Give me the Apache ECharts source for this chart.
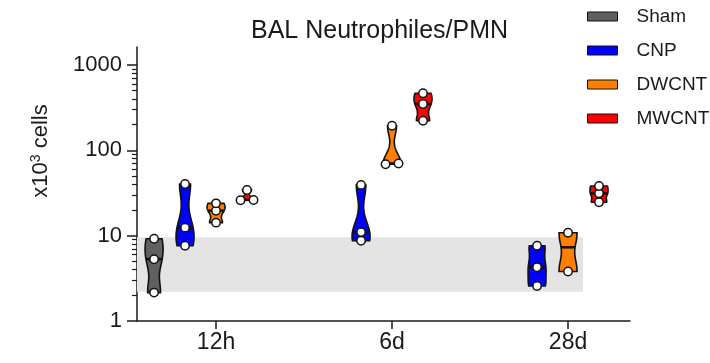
<!DOCTYPE html>
<html><head><meta charset="utf-8">
<script src="https://cdn.jsdelivr.net/npm/echarts@6/dist/echarts.min.js"></script>
<style>html,body{margin:0;padding:0;background:#fff}#c{width:710px;height:363px}</style>
</head><body><div id="c"></div>
<script>
// ---- data (x10^3 cells) ----
const timeLabels = ['12h', '6d', '28d'];
const groupNames = ['Sham', 'CNP', 'DWCNT', 'MWCNT'];
const shamVals  = [[2.15, 5.3, 9.2], null, null];
const cnpVals   = [[7.6, 12.4, 40.3], [8.7, 11.0, 39.3], [2.57, 4.26, 7.6]];
const dwcntVals = [[14.2, 19.6, 23.9], [68.6, 70.0, 194], [3.8, 10.8]];
const mwcntVals = [[26.0, 26.2, 34.3], [222, 349, 466], [24.6, 31.3, 38.2]];
const bandRange = [2.2, 9.6];          // grey reference band (Sham range)
const yTicks = [1, 10, 100, 1000];

// ---- styling ----
const groupColors = ['#606060', '#0000ff', '#ff8000', '#ff0000'];
const groupVals = [shamVals, cnpVals, dwcntVals, mwcntVals];
const X_MIN = 0.551, X_MAX = 3.352, GROUP_STEP = 0.176, BAND_XEND = 3.085;
const Y_MAX = 1622;
const HALF_W = 9, BW_FACTOR = 0.55;

const minorTicks = [];
for (let e = 0; e < 3; e++) for (let k = 2; k <= 9; k++) minorTicks.push(Math.log10(k * Math.pow(10, e)));

function median(a) {
  const s = a.slice().sort((p, q) => p - q), n = s.length;
  return n % 2 ? s[(n - 1) / 2] : (s[n / 2 - 1] + s[n / 2]) / 2;
}

function violinRender(g) {
  return function (params, api) {
    const vals = groupVals[g][api.value(1)];
    if (!vals) return;
    const x = api.value(0);
    const logs = vals.map(v => Math.log10(v));
    const n = logs.length;
    const mean = logs.reduce((a, b) => a + b, 0) / n;
    const sd = Math.sqrt(logs.reduce((a, b) => a + (b - mean) * (b - mean), 0) / (n - 1));
    const h = Math.max(0.02, BW_FACTOR * 1.06 * sd * Math.pow(n, -0.2));
    const dens = l => logs.reduce((a, b) => a + Math.exp(-0.5 * ((l - b) / h) * ((l - b) / h)), 0);
    const lmin = Math.min(...logs), lmax = Math.max(...logs);
    const N = 50, grid = [];
    let dmax = 0;
    for (let i = 0; i <= N; i++) {
      const l = lmin + (lmax - lmin) * i / N;
      const d = dens(l);
      dmax = Math.max(dmax, d);
      grid.push([l, d]);
    }
    const cx = api.coord([x, vals[0]])[0];
    const right = [], left = [];
    grid.forEach(([l, d]) => {
      const py = api.coord([x, Math.pow(10, l)])[1];
      const w = HALF_W * d / dmax;
      right.push([cx + w, py]);
      left.unshift([cx - w, py]);
    });
    const children = [{
      type: 'polygon', shape: { points: right.concat(left) },
      style: { fill: groupColors[g], stroke: '#111', lineWidth: 1.6 }
    }];
    const med = median(vals);
    const my = api.coord([x, med])[1];
    const mw = HALF_W * dens(Math.log10(med)) / dmax;
    children.push({ type: 'line', shape: { x1: cx - mw, y1: my, x2: cx + mw, y2: my },
      style: { stroke: '#111', lineWidth: 2.5 } });
    // points with horizontal spreading when overlapping
    const pts = vals.map(v => api.coord([x, v])[1]).sort((a, b) => b - a);
    const clusters = [];
    pts.forEach(py => {
      const last = clusters[clusters.length - 1];
      if (last && Math.abs(last[last.length - 1] - py) < 5) last.push(py); else clusters.push([py]);
    });
    clusters.forEach(cl => cl.forEach((py, j) => {
      const ox = (j - (cl.length - 1) / 2) * 13;
      children.push({ type: 'circle', shape: { cx: cx + ox, cy: py, r: 4.2 },
        style: { fill: '#fff', stroke: '#111', lineWidth: 1.5 } });
    }));
    return { type: 'group', children };
  };
}

const series = [{
  type: 'custom', name: 'band', silent: true, z: 1,
  data: [[X_MIN, bandRange[0], BAND_XEND, bandRange[1]]],
  renderItem: (params, api) => {
    const p0 = api.coord([api.value(0), api.value(3)]);
    const p1 = api.coord([api.value(2), api.value(1)]);
    return { type: 'rect', shape: { x: p0[0], y: p0[1], width: p1[0] - p0[0], height: p1[1] - p0[1] },
      style: { fill: '#e4e4e4' } };
  }
}];
groupNames.forEach((name, g) => {
  const data = [];
  groupVals[g].forEach((vals, t) => {
    if (vals) data.push([t + 1 + (g - 2) * GROUP_STEP, t, Math.min(...vals), Math.max(...vals)]);
  });
  series.push({
    type: 'custom', name, z: 3, xAxisIndex: 0, yAxisIndex: 0,
    itemStyle: { color: groupColors[g], borderColor: '#111', borderWidth: 1 },
    encode: { x: 0, y: [2, 3] },
    data, renderItem: violinRender(g)
  });
});

const FONT = 'Liberation Sans, Arial, sans-serif';
const chart = echarts.init(document.getElementById('c'), null, { renderer: 'canvas' });
chart.setOption({
  animation: false,
  backgroundColor: '#fff',
  textStyle: { fontFamily: FONT },
  title: { text: 'BAL Neutrophiles/PMN', left: 246, top: 14,
    textStyle: { fontFamily: FONT, fontSize: 25, fontWeight: 'normal', color: '#1a1a1a' } },
  legend: {
    data: groupNames, orient: 'vertical', left: 582, top: 2, itemGap: 15,
    icon: 'rect', itemWidth: 30, itemHeight: 9,
    itemStyle: { borderColor: '#111', borderWidth: 1 },
    textStyle: { fontFamily: FONT, fontSize: 19, color: '#1a1a1a', padding: [0, 0, 0, 14] }
  },
  grid: { left: 137, right: 80, top: 47, bottom: 42 },
  xAxis: {
    type: 'value', min: X_MIN, max: X_MAX,
    splitLine: { show: false },
    axisLine: { show: true, lineStyle: { color: '#1a1a1a', width: 1.5 } },
    axisTick: { show: true, customValues: [1, 2, 3], length: 8, lineStyle: { color: '#1a1a1a', width: 1.5 } },
    axisLabel: { customValues: [1, 2, 3], formatter: v => timeLabels[Math.round(v) - 1],
      fontFamily: FONT, fontSize: 23, color: '#1a1a1a', margin: 10 }
  },
  yAxis: [{
    type: 'log', logBase: 10, min: 1, max: Y_MAX,
    splitLine: { show: false },
    axisLine: { show: true, lineStyle: { color: '#1a1a1a', width: 1.5 } },
    axisTick: { show: true, customValues: yTicks, length: 10, lineStyle: { color: '#1a1a1a', width: 1.5 } },
    axisLabel: { customValues: yTicks, formatter: v => String(Math.round(v)),
      fontFamily: FONT, fontSize: 22, color: '#1a1a1a', margin: 15 }
  }, {
    type: 'value', min: 0, max: Math.log10(Y_MAX), position: 'left',
    splitLine: { show: false }, axisLine: { show: false },
    axisTick: { show: true, customValues: minorTicks, length: 5, lineStyle: { color: '#1a1a1a', width: 1.2 } },
    axisLabel: { show: false }
  }],
  graphic: [{
    type: 'text', x: 41, y: 151, rotation: Math.PI / 2,
    style: {
      text: '{a|x10}{s|3}{a| cells}', align: 'center', verticalAlign: 'middle',
      rich: { a: { fontFamily: FONT, fontSize: 22, fill: '#1a1a1a', color: '#1a1a1a' },
              s: { fontFamily: FONT, fontSize: 14, fill: '#1a1a1a', color: '#1a1a1a', verticalAlign: 'top', padding: [0, 0, 10, 0] } }
    }
  }],
  series
});
</script></body></html>
